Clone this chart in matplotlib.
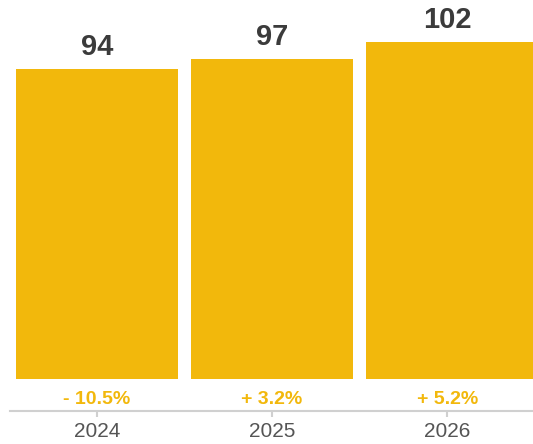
import matplotlib
matplotlib.use("Agg")
from matplotlib import pyplot as plt

years = ['2024', '2025', '2026']
values = [94, 97, 102]
changes = ['- 10.5%', '+ 3.2%', '+ 5.2%']

BAR_COLOR = '#F2B80C'
VALUE_COLOR = '#3b3b3b'
YEAR_COLOR = '#555555'
AXIS_COLOR = '#d0d0d0'

plt.rcParams['font.family'] = ['Liberation Sans', 'DejaVu Sans']

fig = plt.figure(figsize=(5.33, 4.44), dpi=100)
ax = fig.add_axes([10 / 533, 33 / 444, 523 / 533, 411 / 444])

x = list(range(len(years)))
half = 0.925 / 2
# last bar runs off the right edge of the figure
widths = [0.925, 0.925, 1.2]
ax.bar([i - half for i in x], values, width=widths, align='edge',
       color=BAR_COLOR)

# value on top of each bar
for i, v in enumerate(values):
    ax.annotate(str(v), xy=(i, v), xytext=(0, 10), textcoords='offset points',
                ha='center', va='baseline', fontsize=21, fontweight='bold',
                color=VALUE_COLOR)

# yearly change under each bar
for i, c in enumerate(changes):
    ax.annotate(c, xy=(i, 0), xytext=(0, -18), textcoords='offset points',
                ha='center', va='baseline', fontsize=14, fontweight='bold',
                color=BAR_COLOR)

ax.set_xlim(-0.497, 2.49)
ax.set_ylim(-9.7, 114.8)

ax.set_xticks(x)
ax.set_xticklabels(years, fontsize=15, color=YEAR_COLOR)
ax.tick_params(axis='x', length=4, width=1.5, color=AXIS_COLOR, pad=4)
ax.set_yticks([])

for side in ['top', 'right', 'left']:
    ax.spines[side].set_visible(False)
ax.spines['bottom'].set_color(AXIS_COLOR)
ax.spines['bottom'].set_linewidth(1.5)

fig.savefig('out.png', dpi=100)
